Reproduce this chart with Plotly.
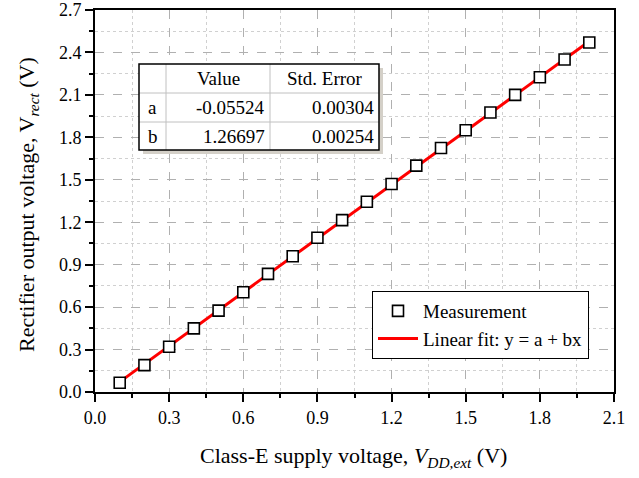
import plotly.graph_objects as go

# Data
supply_v = [0.1, 0.2, 0.3, 0.4, 0.5, 0.6, 0.7, 0.8, 0.9, 1.0,
            1.1, 1.2, 1.3, 1.4, 1.5, 1.6, 1.7, 1.8, 1.9, 2.0]
rect_v = [0.065, 0.19, 0.32, 0.45, 0.575, 0.705, 0.835, 0.96, 1.09, 1.215,
          1.345, 1.47, 1.60, 1.725, 1.85, 1.975, 2.10, 2.225, 2.35, 2.47]
fit_a = -0.05524
fit_b = 1.26697
fit_a_err = 0.00304
fit_b_err = 0.00254
fit_x = [0.1, 2.0]
fit_y = [fit_a + fit_b * x for x in fit_x]

FONT = "Liberation Serif"
W, H = 639, 478
L, R, T, B = 95, 614, 10, 392  # plot area in page pixels

def px(x):
    return (x - L) / (R - L)

def py(y):
    return (B - y) / (B - T)

fig = go.Figure()
fig.add_trace(go.Scatter(
    x=fit_x, y=fit_y, mode="lines", name="Linear fit: y = a + bx",
    line=dict(color="#ff0000", width=3)))
fig.add_trace(go.Scatter(
    x=supply_v, y=rect_v, mode="markers", name="Measurement",
    marker=dict(symbol="square", size=11, color="white",
                line=dict(color="black", width=1.6))))

axis_common = dict(
    showline=True, linecolor="black", linewidth=2, mirror=True,
    ticks="outside", ticklen=8, tickwidth=2, tickcolor="black",
    showgrid=True, gridcolor="#b0b0b0", griddash="dash", gridwidth=1,
    zeroline=False, automargin=False, ticklabeloverflow="allow",
    tickfont=dict(family=FONT, size=18, color="black"),
)

fig.update_xaxes(
    range=[0, 2.1], dtick=0.3, tick0=0, tickformat=".1f",
    minor=dict(dtick=0.15, ticks="outside", ticklen=4, tickwidth=2, tickcolor="black",
               showgrid=True, gridcolor="#d0d0d0", griddash="dot", gridwidth=1),
    **axis_common)
fig.update_yaxes(
    range=[0, 2.7], dtick=0.3, tick0=0, tickformat=".1f",
    minor=dict(dtick=0.15, ticks="outside", ticklen=4, tickwidth=2, tickcolor="black",
               showgrid=True, gridcolor="#d0d0d0", griddash="dot", gridwidth=1),
    **axis_common)

# Parameter table
tx0, tx1, ty0, ty1 = 139, 379, 64, 150
cols = [139, 166, 270, 379]
rows = [64, 93, 122, 150]
shapes = []
shapes.append(dict(type="rect", xref="paper", yref="paper",
                   x0=px(tx0 + 4), x1=px(tx1 + 4), y0=py(ty0 + 4), y1=py(ty1 + 4),
                   fillcolor="#d4d0c8", line=dict(width=0)))
shapes.append(dict(type="rect", xref="paper", yref="paper",
                   x0=px(tx0), x1=px(tx1), y0=py(ty0), y1=py(ty1),
                   fillcolor="white", line=dict(width=0)))
for cx in cols[1:-1]:
    shapes.append(dict(type="line", xref="paper", yref="paper",
                       x0=px(cx), x1=px(cx), y0=py(ty0), y1=py(ty1),
                       line=dict(color="#c0c0c0", width=1)))
for ry in rows[1:-1]:
    shapes.append(dict(type="line", xref="paper", yref="paper",
                       x0=px(tx0), x1=px(tx1), y0=py(ry), y1=py(ry),
                       line=dict(color="#c0c0c0", width=1)))
shapes.append(dict(type="rect", xref="paper", yref="paper",
                   x0=px(tx0), x1=px(tx1), y0=py(ty0), y1=py(ty1),
                   line=dict(color="black", width=1.5)))

table_cells = [
    ["", "Value", "Std. Error"],
    ["a", f"{fit_a:.5f}", f"{fit_a_err:.5f}"],
    ["b", f"{fit_b:.5f}", f"{fit_b_err:.5f}"],
]
annotations = []
for ri, row in enumerate(table_cells):
    yc = (rows[ri] + rows[ri + 1]) / 2
    for ci, txt in enumerate(row):
        if not txt:
            continue
        if ri == 0 or ci == 0:
            xa, xanchor = (cols[ci] + cols[ci + 1]) / 2, "center"
        else:
            xa, xanchor = cols[ci + 1] - 3, "right"
        annotations.append(dict(
            text=txt, xref="paper", yref="paper", x=px(xa), y=py(yc),
            xanchor=xanchor, yanchor="middle", showarrow=False,
            font=dict(family=FONT, size=19, color="black")))

# Axis titles
annotations.append(dict(
    text="Class-E supply voltage, <i>V<sub>DD,ext</sub></i> (V)",
    xref="paper", yref="paper", x=px(198), y=py(457),
    xanchor="left", yanchor="middle", showarrow=False,
    font=dict(family=FONT, size=22, color="black")))
annotations.append(dict(
    text="Rectifier output voltage, V<sub><i>rect</i></sub> (V)",
    xref="paper", yref="paper", x=px(28), y=py(205),
    xanchor="center", yanchor="middle", showarrow=False, textangle=-90,
    font=dict(family=FONT, size=22, color="black")))

fig.update_layout(
    width=W, height=H,
    margin=dict(l=L, r=W - R, t=T, b=H - B, pad=0, autoexpand=False),
    paper_bgcolor="white", plot_bgcolor="white",
    shapes=shapes, annotations=annotations,
    showlegend=True, hovermode=False,
    legend=dict(x=px(372), y=py(291), xanchor="left", yanchor="top",
                bgcolor="white", bordercolor="black", borderwidth=1,
                font=dict(family=FONT, size=19, color="black"),
                traceorder="reversed", tracegroupgap=0, itemwidth=40),
)

fig.write_html("out.html", config={"displayModeBar": False},
               post_script="document.body.style.margin='0';")
